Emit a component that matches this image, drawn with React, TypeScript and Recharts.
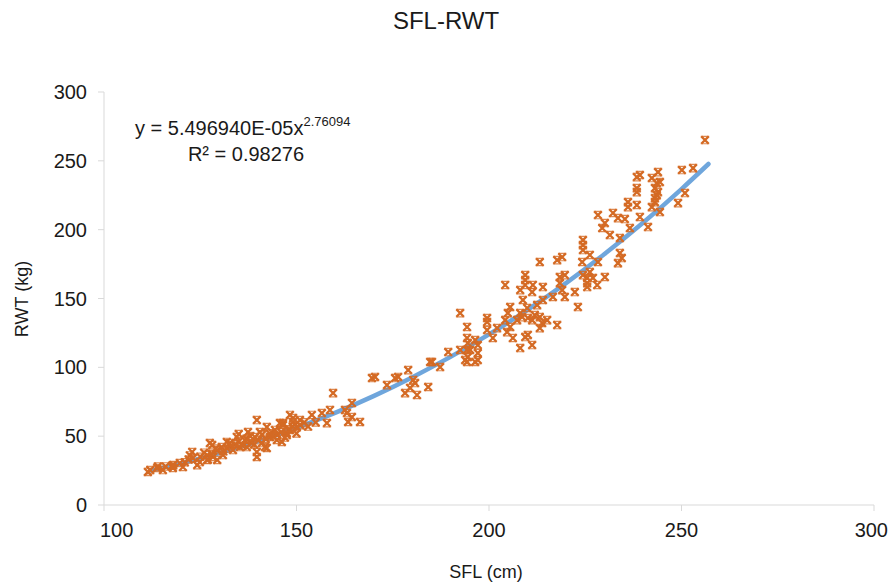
import React from "react";
import { ComposedChart, Scatter, Line, XAxis, YAxis } from "recharts";

const SFL = [
  112.0, 113.8, 115.3, 117.9, 119.7, 120.5, 122.9, 123.1, 124.9, 126.8, 127.5, 128.3, 129.4, 130.6, 130.9, 132.7, 133.5, 134.5, 135.3, 136.6,
  137.4, 138.4, 139.2, 139.7, 139.7, 139.7, 140.5, 141.8, 142.3, 143.1, 144.4, 144.9, 146.2, 146.5, 147.5, 148.3, 149.1, 150.1,
  111.4, 114.0, 117.7, 122.3, 124.2, 126.8, 129.4, 128.1, 131.9, 135.0, 137.1, 142.3, 145.7, 150.9,
  116, 118, 121, 122, 125, 126, 127, 128, 129, 131, 132, 133, 134, 135, 136, 137, 138, 139, 140, 141, 141, 142, 143, 144, 145, 146, 147, 148, 149, 150, 151, 152, 153, 155,
  154.0, 156.6, 157.9, 158.7, 159.5, 163.1, 163.4, 164.4, 164.4, 166.5, 162.6, 149.1, 146.5, 148.3, 147.5,
  169.6, 170.4, 173.5, 175.6, 176.4, 178.2, 179.5, 180.3, 181.3, 184.2, 184.7, 187.3, 179.0, 180.8, 185.2, 189.4,
  192.5, 194.3, 194.3, 194.3, 194.3, 192.5, 195.1, 196.4, 197.1, 197.1, 197.1, 196.4, 193.8, 194.5, 194.5,
  199.5, 199.5, 199.5, 201.0, 202.1, 204.7, 205.5, 204.2, 204.9, 205.5, 206.2, 208.1, 209.4, 210.1, 211.2, 207.3, 208.6, 208.1, 209.9,
  210.1, 211.2, 211.9, 213.2, 213.8, 213.2, 215.1, 217.7, 208.8, 212.5, 214.0, 208.1, 211.2, 204.2, 209.4, 211.4, 214.0, 209.4, 209.4,
  213.2, 217.7,
  218.4, 219.7, 218.4, 219.0, 219.7, 216.6, 222.3, 223.1, 225.5, 225.5, 225.5, 224.4, 226.2, 227.0, 228.1, 230.1,
  219.0, 224.2, 224.4, 224.4, 224.4, 226.2, 228.3, 233.5, 234.5, 234.0, 231.4, 234.0, 229.4, 228.3, 230.1, 232.2, 233.5, 235.3, 236.6,
  236.1, 236.1, 238.4, 239.2, 241.3, 238.4, 238.4, 238.4, 239.2, 242.3, 243.6, 244.4, 243.9, 243.1, 243.9, 243.6, 243.1, 243.1, 242.3,
  244.4, 249.1, 250.9, 250.1, 253.0, 256.1,
];

const RWT = [
  25.4, 26.9, 25.4, 26.9, 30.5, 27.6, 38.5, 34.1, 31.2, 32.7, 45.0, 34.9, 39.9, 42.1, 36.3, 45.0, 39.9, 49.4, 42.1, 47.2,
  53.0, 45.0, 49.4, 61.7, 38.5, 34.9, 53.0, 42.1, 56.6, 49.4, 54.5, 47.2, 45.8, 59.5, 52.3, 65.4, 60.3, 56.6,
  24.0, 28.0, 28.5, 36.0, 29.0, 36.3, 32.7, 43.5, 45.8, 51.5, 42.1, 41.4, 59.5, 61.7,
  28, 29, 31, 33, 35, 38, 33, 37, 41, 39, 41, 43, 44, 46, 43, 48, 50, 44, 47, 51, 45, 48, 52, 50, 51, 53, 49, 55, 57, 52, 58, 60, 57, 60,
  65.4, 66.8, 59.5, 69.0, 81.3, 66.8, 60.3, 74.1, 63.9, 60.3, 69.0, 63.2, 58.1, 54.5, 50.8,
  92.2, 93.0, 87.1, 92.2, 93.0, 81.3, 85.0, 90.8, 79.9, 85.7, 103.9, 100.2, 98.0, 88.6, 103.9, 111.1,
  139.4, 129.3, 121.3, 112.6, 103.9, 112.6, 112.6, 103.9, 116.2, 110.4, 105.3, 119.8, 105.3, 117.6, 107.5,
  135.8, 132.9, 127.1, 121.3, 128.5, 125.6, 129.3, 134.3, 139.4, 143.8, 121.3, 114.0, 122.0, 123.5, 116.2, 134.3, 136.5, 139.4, 143.1,
  135.8, 134.3, 138.0, 136.5, 132.2, 128.5, 134.3, 130.7, 148.9, 145.2, 148.9, 156.1, 154.7, 159.8, 159.8, 159.8, 158.3, 163.4, 167.0,
  176.5, 177.9,
  165.6, 167.0, 161.2, 156.1, 151.1, 151.1, 154.7, 143.8, 164.9, 161.2, 158.3, 167.0, 169.2, 164.9, 159.8, 165.6,
  180.1, 176.5, 185.2, 188.8, 192.4, 181.6, 176.5, 175.7, 179.4, 183.0, 196.1, 193.9, 201.2, 210.6, 204.8, 212.1, 208.4, 207.7, 201.2,
  220.0, 216.4, 217.9, 209.2, 201.9, 227.3, 230.2, 238.2, 239.7, 237.5, 233.8, 234.6, 241.8, 230.2, 227.3, 225.1, 222.9, 220.0, 216.4,
  212.8, 219.3, 226.6, 243.3, 244.7, 265.1,
];

const TREND_SFL = [112, 120, 130, 140, 150, 160, 170, 180, 190, 200, 210, 220, 230, 240, 250, 257];
const TREND_RWT = [25.0, 30.2, 37.7, 46.3, 56.0, 66.9, 79.1, 92.7, 107.6, 123.9, 141.8, 161.2, 182.3, 205.0, 229.5, 247.7];

const X_TICKS = [100, 150, 200, 250, 300];
const Y_TICKS = [0, 50, 100, 150, 200, 250, 300];

const TITLE = "SFL-RWT";
const X_LABEL = "SFL (cm)";
const Y_LABEL = "RWT (kg)";
const EQ_MAIN = "y = 5.496940E-05x";
const EQ_EXP = "2.76094";
const R2_TEXT = "R² = 0.98276";

const points = SFL.map((x, i) => ({ x, y: RWT[i] }));
const trend = TREND_SFL.map((x, i) => ({ x, y: TREND_RWT[i] }));

const FONT = "'Liberation Sans', Arial, sans-serif";
const MARK = "#D46A24";

const XMarker = (props: any) => {
  const { cx, cy } = props;
  if (cx == null || cy == null) return null;
  const r = 3.7;
  return (
    <g>
      <path
        d={`M${cx - r},${cy - r}L${cx + r},${cy + r}M${cx + r},${cy - r}L${cx - r},${cy + r}`}
        stroke={MARK}
        strokeWidth={2.3}
        fill="none"
      />
      <path
        d={`M${cx - r - 0.5},${cy - r}H${cx + r + 0.5}M${cx - r - 0.5},${cy + r}H${cx + r + 0.5}`}
        stroke={MARK}
        strokeWidth={1.2}
        fill="none"
        opacity={0.8}
      />
    </g>
  );
};

const XTick = (props: any) => {
  const { x, y, payload, index } = props;
  let anchor = "middle";
  let tx = x;
  if (index === 0) {
    anchor = "start";
    tx = x - 4;
  } else if (index === X_TICKS.length - 1) {
    anchor = "end";
    tx = x + 14;
  }
  return (
    <text x={tx} y={y + 24} textAnchor={anchor} fontSize={20} fill="#1a1a1a" fontFamily={FONT}>
      {payload.value}
    </text>
  );
};

const YTick = (props: any) => {
  const { x, y, payload } = props;
  return (
    <text x={x - 9} y={y + 7} textAnchor="end" fontSize={20} fill="#1a1a1a" fontFamily={FONT}>
      {payload.value}
    </text>
  );
};

export default function App() {
  return (
    <div style={{ position: "absolute", left: 0, top: 0, width: 892, height: 588, background: "#fff", fontFamily: FONT }}>
      <ComposedChart width={892} height={588} margin={{ top: 92, right: 18, bottom: 53, left: 44 }}>
        <XAxis
          type="number"
          dataKey="x"
          domain={[100, 300]}
          ticks={X_TICKS}
          allowDataOverflow
          height={30}
          stroke="#d9d9d9"
          tickLine={{ stroke: "#d9d9d9" }}
          tickSize={6}
          tickMargin={2}
          tick={<XTick />}
          interval={0}
        />
        <YAxis
          type="number"
          dataKey="y"
          domain={[0, 300]}
          ticks={Y_TICKS}
          allowDataOverflow
          width={60}
          stroke="#d9d9d9"
          tickLine={{ stroke: "#d9d9d9" }}
          tickSize={6}
          tickMargin={2}
          tick={<YTick />}
          interval={0}
        />
        <Scatter data={points} dataKey="y" shape={<XMarker />} isAnimationActive={false} />
        <Line
          data={trend}
          dataKey="y"
          type="monotone"
          stroke="#6FA6DC"
          strokeWidth={4.5}
          strokeLinecap="round"
          dot={false}
          activeDot={false}
          isAnimationActive={false}
        />
      </ComposedChart>
      <div style={{ position: "absolute", left: 446, top: 21, transform: "translate(-50%,-50%)", fontSize: 24, color: "#1a1a1a", whiteSpace: "nowrap" }}>
        {TITLE}
      </div>
      <div style={{ position: "absolute", left: 486, top: 572, transform: "translate(-50%,-50%)", fontSize: 18, color: "#1a1a1a", whiteSpace: "nowrap" }}>
        {X_LABEL}
      </div>
      <div style={{ position: "absolute", left: 22, top: 299, transform: "translate(-50%,-50%) rotate(-90deg)", fontSize: 18, color: "#1a1a1a", whiteSpace: "nowrap" }}>
        {Y_LABEL}
      </div>
      <div style={{ position: "absolute", left: 135, top: 116, fontSize: 20, color: "#1a1a1a", whiteSpace: "nowrap", lineHeight: "24px" }}>
        {EQ_MAIN}
        <sup style={{ fontSize: 13, verticalAlign: "top", position: "relative", top: -6 }}>{EQ_EXP}</sup>
      </div>
      <div style={{ position: "absolute", left: 246, top: 154, transform: "translate(-50%,-50%)", fontSize: 20, color: "#1a1a1a", whiteSpace: "nowrap" }}>
        {R2_TEXT}
      </div>
    </div>
  );
}
